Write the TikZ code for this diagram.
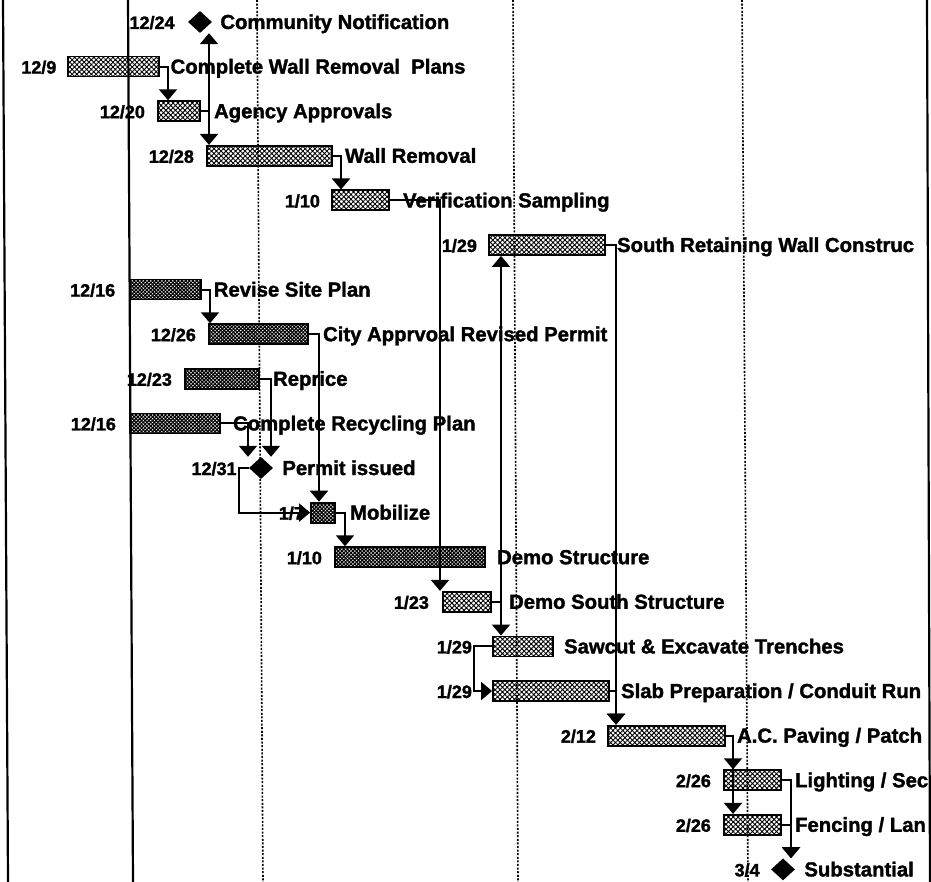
\documentclass[tikz,border=0pt]{standalone}
\usepackage{fontspec}
\setmainfont{Liberation Sans}
\newfontfamily\heavy{Liberation Sans Bold}[FakeBold=1.6]
\usetikzlibrary{shapes.geometric,arrows.meta,patterns.meta}
\tikzset{
 gridsolid/.style={line width=2.2pt},
 griddot/.style={line width=1.6pt, dash pattern=on 2pt off 1.6pt},
 bar/.style={draw, line width=1.8pt, minimum height=20pt, inner sep=0pt,
   pattern={Hatch[angle=45,distance=3.4pt,line width=0.9pt]}},
 darkbar/.style={bar, pattern={Hatch[angle=45,distance=2.6pt,line width=1.2pt]}},
 ms/.style={diamond, fill=black, draw=none, minimum width=24pt, minimum height=22pt, inner sep=0pt},
 lbl/.style={anchor=base west, inner sep=0pt, font=\fontsize{20.3}{24}\heavy},
 dte/.style={anchor=base east, inner sep=0pt, font=\fontsize{18}{22}\heavy},
 link/.style={line width=2pt, -{Triangle[width=18pt,length=11pt]}},
}
\begin{document}
\begin{tikzpicture}[x=1pt,y=-1pt]
\useasboundingbox (0,0) rectangle (931,882);
% grid lines
\draw[gridsolid] (3,0) -- (8,882);
\draw[gridsolid] (128,0) -- (133,882);
\draw[griddot] (257,0) -- (263,882);
\draw[griddot] (513,0) -- (518,882);
\draw[griddot] (742,0) -- (748,882);
\draw[gridsolid] (927,0) -- (930,882);

% milestones and bars
\node[ms] (cn) at (200,22) {};
\node[bar, minimum width=91pt] (cwr) at (113.5,66.6) {};
\node[bar, minimum width=42pt] (aa) at (179,111.2) {};
\node[bar, minimum width=125pt] (wr) at (269.5,155.8) {};
\node[bar, minimum width=57pt] (vs) at (360.5,200.4) {};
\node[bar, minimum width=116pt] (srw) at (547,245) {};
\node[darkbar, minimum width=71pt] (rsp) at (165.5,289.6) {};
\node[darkbar, minimum width=99pt] (car) at (258.5,334.2) {};
\node[darkbar, minimum width=74pt] (rep) at (222,378.8) {};
\node[darkbar, minimum width=90pt] (crp) at (175,423.4) {};
\node[ms] (pi) at (261,468) {};
\node[darkbar, minimum width=24pt] (mob) at (323,512.6) {};
\node[darkbar, minimum width=150pt] (ds) at (410,557.2) {};
\node[bar, minimum width=48pt] (dss) at (467,601.8) {};
\node[bar, minimum width=60pt] (saw) at (523,646.4) {};
\node[bar, minimum width=116pt] (slab) at (551,691) {};
\node[bar, minimum width=117pt] (acp) at (666.5,735.6) {};
\node[bar, minimum width=57pt] (lig) at (752.5,780.2) {};
\node[bar, minimum width=57pt] (fen) at (752.5,824.8) {};
\node[ms] (sub) at (783,869.4) {};

% links
\draw[link] (cwr.east) -| ([xshift=-11pt]aa.north);
\draw[link] (aa.east) -| ([xshift=9pt]cn.south);
\draw[link] (aa.east) -| ([xshift=-60.5pt]wr.north);
\draw[link] (wr.east) -| ([xshift=-19.5pt]vs.north);
\draw[link] (vs.east) -| ([xshift=-27pt]dss.north);
\draw[link] (dss.east) -| ([xshift=-46pt]srw.south);
\draw[link] (dss.east) -| ([xshift=-22pt]saw.north);
\draw[link] (srw.east) -| ([xshift=-50.5pt]acp.north);
\draw[link] (slab.east) -| ([xshift=-50.5pt]acp.north);
\draw[link] (rsp.east) -| ([xshift=-48.5pt]car.north);
\draw[link] (car.east) -| ([xshift=-4pt]mob.north);
\draw[link] (rep.east) -| ([xshift=10pt]pi.north);
\draw[link] (crp.east) -| ([xshift=-13pt]pi.north);
\draw[link] (pi.west) -- ++(-10,0) |- (mob.west);
\draw[link] (mob.east) -| ([xshift=-65pt]ds.north);
\draw[link] (saw.west) -- ++(-18,0) |- (slab.west);
\draw[link] (acp.east) -| ([xshift=-19.5pt]lig.north);
\draw[link] (acp.east) -| ([xshift=-19.5pt]fen.north);
\draw[link] (lig.east) -| ([xshift=8pt]sub.north);
\draw[link] (fen.east) -| ([xshift=8pt]sub.north);

% labels
\node[lbl] (cnL) at ([xshift=8pt,yshift=-7pt]cn.east) {Community Notification};
\node[lbl] (cwrL) at ([xshift=11pt,yshift=-7pt]cwr.east) {Complete Wall Removal\ \ Plans};
\node[lbl] (aaL) at ([xshift=13pt,yshift=-7pt]aa.east) {Agency Approvals};
\node[lbl] (wrL) at ([xshift=12pt,yshift=-7pt]wr.east) {Wall Removal};
\node[lbl] (vsL) at ([xshift=13pt,yshift=-7pt]vs.east) {Verification Sampling};
\node[lbl] (srwL) at ([xshift=11pt,yshift=-7pt]srw.east) {South Retaining Wall Construc};
\node[lbl] (rspL) at ([xshift=12pt,yshift=-7pt]rsp.east) {Revise Site Plan};
\node[lbl] (carL) at ([xshift=14pt,yshift=-7pt]car.east) {City Apprvoal Revised Permit};
\node[lbl] (repL) at ([xshift=13pt,yshift=-7pt]rep.east) {Reprice};
\node[lbl] (crpL) at ([xshift=12pt,yshift=-7pt]crp.east) {Complete Recycling Plan};
\node[lbl] (piL) at ([xshift=9pt,yshift=-7pt]pi.east) {Permit issued};
\node[lbl] (mobL) at ([xshift=14pt,yshift=-7pt]mob.east) {Mobilize};
\node[lbl] (dsL) at ([xshift=11pt,yshift=-7pt]ds.east) {Demo Structure};
\node[lbl] (dssL) at ([xshift=17pt,yshift=-7pt]dss.east) {Demo South Structure};
\node[lbl] (sawL) at ([xshift=10pt,yshift=-7pt]saw.east) {Sawcut \& Excavate Trenches};
\node[lbl] (slabL) at ([xshift=11pt,yshift=-7pt]slab.east) {Slab Preparation / Conduit Run};
\node[lbl] (acpL) at ([xshift=11pt,yshift=-7pt]acp.east) {A.C. Paving / Patch};
\node[lbl] (ligL) at ([xshift=13pt,yshift=-7pt]lig.east) {Lighting / Sec};
\node[lbl] (fenL) at ([xshift=13pt,yshift=-7pt]fen.east) {Fencing / Lan};
\node[lbl] (subL) at ([xshift=9pt,yshift=-7pt]sub.east) {Substantial};

% dates
\node[dte] (cnD) at ([xshift=-13pt,yshift=-7pt]cn.west) {12/24};
\node[dte] (cwrD) at ([xshift=-11pt,yshift=-7pt]cwr.west) {12/9};
\node[dte] (aaD) at ([xshift=-12pt,yshift=-7pt]aa.west) {12/20};
\node[dte] (wrD) at ([xshift=-12pt,yshift=-7pt]wr.west) {12/28};
\node[dte] (vsD) at ([xshift=-11pt,yshift=-7pt]vs.west) {1/10};
\node[dte] (srwD) at ([xshift=-11pt,yshift=-7pt]srw.west) {1/29};
\node[dte] (rspD) at ([xshift=-14pt,yshift=-7pt]rsp.west) {12/16};
\node[dte] (carD) at ([xshift=-12pt,yshift=-7pt]car.west) {12/26};
\node[dte] (repD) at ([xshift=-12pt,yshift=-7pt]rep.west) {12/23};
\node[dte] (crpD) at ([xshift=-13pt,yshift=-7pt]crp.west) {12/16};
\node[dte] (piD) at ([xshift=-12pt,yshift=-7pt]pi.west) {12/31};
\node[dte] (mobD) at ([xshift=-6pt,yshift=-7pt]mob.west) {1/7};
\node[dte] (dsD) at ([xshift=-12pt,yshift=-7pt]ds.west) {1/10};
\node[dte] (dssD) at ([xshift=-13pt,yshift=-7pt]dss.west) {1/23};
\node[dte] (sawD) at ([xshift=-20pt,yshift=-7pt]saw.west) {1/29};
\node[dte] (slabD) at ([xshift=-20pt,yshift=-7pt]slab.west) {1/29};
\node[dte] (acpD) at ([xshift=-11pt,yshift=-7pt]acp.west) {2/12};
\node[dte] (ligD) at ([xshift=-12pt,yshift=-7pt]lig.west) {2/26};
\node[dte] (fenD) at ([xshift=-12pt,yshift=-7pt]fen.west) {2/26};
\node[dte] (subD) at ([xshift=-11pt,yshift=-7pt]sub.west) {3/4};
\end{tikzpicture}
\end{document}
